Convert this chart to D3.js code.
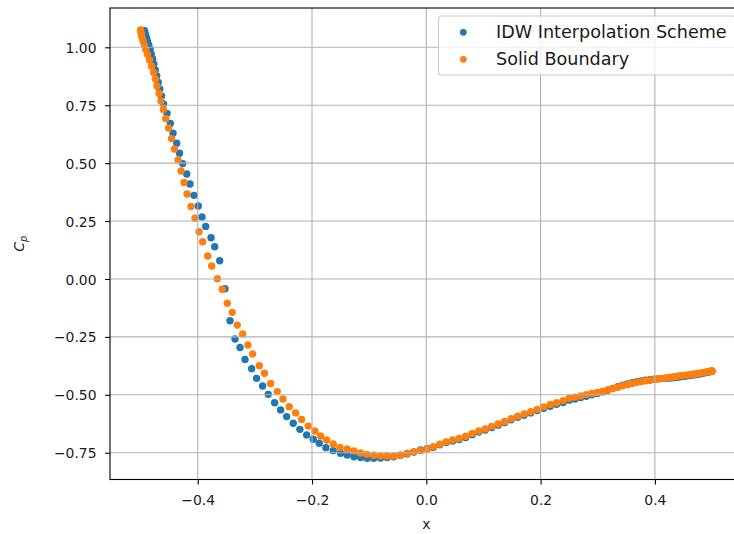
<!DOCTYPE html>
<html>
<head>
<meta charset="utf-8">
<script src="https://cdn.jsdelivr.net/npm/d3@7"></script>
<style>
  html, body { margin: 0; padding: 0; background: #ffffff; }
  svg { display: block; font-family: "DejaVu Sans", sans-serif; }
</style>
</head>
<body>
<svg id="chart" width="734" height="534"></svg>
<script>
// Pressure coefficient along the surface, IDW interpolation vs. solid boundary
const idwX = [
  -0.4934, -0.4925, -0.4913, -0.4895, -0.4878, -0.4857, -0.4834, -0.4813, -0.4790, -0.4768,
  -0.4743, -0.4717, -0.4691, -0.4664, -0.4633, -0.4598, -0.4537, -0.4479, -0.4432, -0.4367,
  -0.4318, -0.4262, -0.4192, -0.4135, -0.4065, -0.3990, -0.3925, -0.3860, -0.3767, -0.3703,
  -0.3615, -0.3523, -0.3435, -0.3348, -0.3260, -0.3173, -0.3056, -0.2969, -0.2864, -0.2766,
  -0.2654, -0.2549, -0.2444, -0.2329, -0.2212, -0.2094, -0.1979, -0.1874, -0.1757, -0.1629,
  -0.1500, -0.1385, -0.1267, -0.1150, -0.1035, -0.0918, -0.0801, -0.0685, -0.0568, -0.0451,
  -0.0336, -0.0219, -0.0101, 0.0014,
  0.0122, 0.0236, 0.0350, 0.0463, 0.0577, 0.0691, 0.0804, 0.0918, 0.1031, 0.1145,
  0.1259, 0.1372, 0.1486, 0.1600, 0.1713, 0.1827, 0.1941, 0.2054, 0.2168, 0.2281,
  0.2395, 0.2500, 0.2601, 0.2701, 0.2801, 0.2897, 0.2991, 0.3086, 0.3175, 0.3262,
  0.3350, 0.3435, 0.3519, 0.3603, 0.3684, 0.3760, 0.3837, 0.3911, 0.3983, 0.4052,
  0.4121, 0.4185, 0.4247, 0.4306, 0.4365, 0.4421, 0.4474, 0.4524, 0.4573, 0.4621,
  0.4664, 0.4705, 0.4743, 0.4780, 0.4844, 0.4895, 0.4937, 0.4969, 0.4990, 0.5000
];
const idwCp = [
  1.073, 1.064, 1.053, 1.040, 1.025, 1.010, 0.993, 0.971, 0.950, 0.928,
  0.902, 0.876, 0.848, 0.820, 0.790, 0.755, 0.715, 0.671, 0.629, 0.586,
  0.543, 0.498, 0.453, 0.410, 0.361, 0.315, 0.268, 0.227, 0.178, 0.139,
  0.079, -0.042, -0.180, -0.259, -0.296, -0.347, -0.387, -0.429, -0.462, -0.498,
  -0.534, -0.565, -0.594, -0.623, -0.649, -0.673, -0.692, -0.709, -0.728, -0.741,
  -0.752, -0.760, -0.767, -0.771, -0.774, -0.774, -0.773, -0.770, -0.767, -0.761,
  -0.755, -0.747, -0.738, -0.732,
  -0.727, -0.716, -0.706, -0.699, -0.693, -0.684, -0.672, -0.661, -0.652, -0.641,
  -0.631, -0.620, -0.608, -0.597, -0.588, -0.578, -0.568, -0.558, -0.549, -0.541,
  -0.533, -0.523, -0.518, -0.512, -0.506, -0.500, -0.494, -0.487, -0.480, -0.472,
  -0.465, -0.458, -0.453, -0.448, -0.443, -0.440, -0.437, -0.435, -0.433, -0.431,
  -0.430, -0.429, -0.428, -0.426, -0.425, -0.423, -0.421, -0.420, -0.418, -0.416,
  -0.414, -0.413, -0.411, -0.410, -0.407, -0.404, -0.402, -0.400, -0.399, -0.398
];
const solidX = [
  -0.5000, -0.4995, -0.4986, -0.4974, -0.4956, -0.4935, -0.4909, -0.4878, -0.4843, -0.4808,
  -0.4773, -0.4741, -0.4712, -0.4677, -0.4642, -0.4601, -0.4560, -0.4510, -0.4458, -0.4406,
  -0.4344, -0.4292, -0.4240, -0.4187, -0.4117, -0.4047, -0.3977, -0.3913, -0.3825, -0.3755,
  -0.3657, -0.3570, -0.3483, -0.3395, -0.3308, -0.3213, -0.3121, -0.3038, -0.2923, -0.2832,
  -0.2724, -0.2608, -0.2509, -0.2399, -0.2287, -0.2182, -0.2066, -0.1949, -0.1850, -0.1745,
  -0.1629, -0.1512, -0.1385, -0.1267, -0.1150, -0.1040, -0.0918, -0.0801, -0.0685, -0.0568,
  -0.0451, -0.0336, -0.0219, -0.0101, 0.0014,
  0.0122, 0.0236, 0.0350, 0.0463, 0.0577, 0.0691, 0.0804, 0.0918, 0.1031, 0.1145,
  0.1259, 0.1372, 0.1486, 0.1600, 0.1713, 0.1827, 0.1941, 0.2054, 0.2168, 0.2281,
  0.2395, 0.2500, 0.2601, 0.2701, 0.2801, 0.2897, 0.2991, 0.3086, 0.3175, 0.3262,
  0.3350, 0.3435, 0.3519, 0.3603, 0.3684, 0.3760, 0.3837, 0.3911, 0.3983, 0.4052,
  0.4121, 0.4185, 0.4247, 0.4306, 0.4365, 0.4421, 0.4474, 0.4524, 0.4573, 0.4621,
  0.4664, 0.4705, 0.4743, 0.4780, 0.4844, 0.4895, 0.4937, 0.4969, 0.4990, 0.5000
];
const solidCp = [
  1.075, 1.066, 1.055, 1.042, 1.027, 1.010, 0.991, 0.969, 0.945, 0.919,
  0.891, 0.863, 0.833, 0.801, 0.768, 0.732, 0.693, 0.652, 0.606, 0.561,
  0.514, 0.466, 0.417, 0.367, 0.313, 0.262, 0.204, 0.161, 0.099, 0.056,
  0.001, -0.044, -0.105, -0.144, -0.199, -0.237, -0.285, -0.324, -0.374, -0.407,
  -0.451, -0.486, -0.518, -0.551, -0.578, -0.606, -0.635, -0.656, -0.678, -0.695,
  -0.712, -0.727, -0.734, -0.742, -0.751, -0.757, -0.761, -0.764, -0.764, -0.764,
  -0.761, -0.752, -0.747, -0.741, -0.734,
  -0.724, -0.713, -0.703, -0.695, -0.688, -0.679, -0.667, -0.656, -0.647, -0.636,
  -0.626, -0.615, -0.603, -0.592, -0.583, -0.573, -0.563, -0.552, -0.542, -0.534,
  -0.525, -0.515, -0.510, -0.505, -0.499, -0.494, -0.490, -0.485, -0.479, -0.473,
  -0.467, -0.461, -0.456, -0.451, -0.446, -0.443, -0.439, -0.437, -0.434, -0.432,
  -0.429, -0.427, -0.425, -0.423, -0.421, -0.419, -0.417, -0.416, -0.414, -0.412,
  -0.411, -0.410, -0.408, -0.407, -0.404, -0.401, -0.400, -0.398, -0.398, -0.397
];
const seriesNames = ["IDW Interpolation Scheme", "Solid Boundary"];
const seriesColors = ["#1f77b4", "#ff7f0e"];
const xTicks = [-0.4, -0.2, 0.0, 0.2, 0.4];
const yTicks = [-0.75, -0.50, -0.25, 0.00, 0.25, 0.50, 0.75, 1.00];
const xLimits = [-0.5535, 0.5535];
const yLimits = [-0.8655, 1.1697];

const svg = d3.select("#chart");
const plot = { left: 110, top: 8, right: 742.6, bottom: 479.5 };
const fontSize = 13.9;
const legendFontSize = 17.6;
const textColor = "#1a1a1a";

const x = d3.scaleLinear().domain(xLimits).range([plot.left, plot.right]);
const y = d3.scaleLinear().domain(yLimits).range([plot.bottom, plot.top]);

svg.append("rect").attr("width", 734).attr("height", 534).attr("fill", "#ffffff");

// scatter markers (grid lines are drawn over them)
const series = [
  { name: seriesNames[0], color: seriesColors[0], xs: idwX, ys: idwCp },
  { name: seriesNames[1], color: seriesColors[1], xs: solidX, ys: solidCp }
];
const pts = svg.append("g");
series.forEach(s => {
  pts.append("g").selectAll("circle")
    .data(d3.range(s.xs.length))
    .join("circle")
    .attr("cx", i => x(s.xs[i]))
    .attr("cy", i => y(s.ys[i]))
    .attr("r", 3.7)
    .attr("fill", s.color);
});

// grid
const grid = svg.append("g").attr("stroke", "#b0b0b0").attr("stroke-width", 1.1);
grid.selectAll(".gx").data(xTicks).join("line")
  .attr("x1", d => x(d)).attr("x2", d => x(d))
  .attr("y1", plot.top).attr("y2", plot.bottom);
grid.selectAll(".gy").data(yTicks).join("line")
  .attr("x1", plot.left).attr("x2", plot.right)
  .attr("y1", d => y(d)).attr("y2", d => y(d));

// axes
const xAxis = d3.axisBottom(x).tickValues(xTicks).tickFormat(d3.format(".1f"))
  .tickSize(4.9).tickSizeOuter(0).tickPadding(10.3);
const yAxis = d3.axisLeft(y).tickValues(yTicks).tickFormat(d3.format(".2f"))
  .tickSize(4.9).tickSizeOuter(0).tickPadding(8.6);

const gx = svg.append("g").attr("transform", `translate(0,${plot.bottom})`).call(xAxis);
const gy = svg.append("g").attr("transform", `translate(${plot.left},0)`).call(yAxis);
[gx, gy].forEach(g => {
  g.select(".domain").remove();
  g.selectAll(".tick line").attr("stroke", "#000").attr("stroke-width", 1.1);
  g.selectAll(".tick text").attr("fill", textColor)
    .attr("font-size", fontSize).attr("font-family", "DejaVu Sans");
});
gy.selectAll(".tick text").attr("dy", "0.36em");

// frame
const frame = svg.append("g").attr("stroke", "#000").attr("stroke-width", 1.1).attr("fill", "none");
frame.append("rect")
  .attr("x", plot.left).attr("y", plot.top)
  .attr("width", plot.right - plot.left).attr("height", plot.bottom - plot.top);

// axis titles
svg.append("text")
  .attr("x", (plot.left + plot.right) / 2).attr("y", 529)
  .attr("text-anchor", "middle").attr("font-size", fontSize).attr("fill", textColor)
  .text("x");

const yl = svg.append("text")
  .attr("transform", `translate(23.5,${(plot.top + plot.bottom) / 2}) rotate(-90)`)
  .attr("text-anchor", "middle").attr("font-size", fontSize).attr("fill", textColor);
yl.append("tspan").attr("font-style", "italic").text("C");
yl.append("tspan").attr("font-style", "italic").attr("font-size", 9.7).attr("dy", 3).text("p");

// legend
const lg = svg.append("g");
lg.append("rect")
  .attr("x", 438.5).attr("y", 16).attr("width", 297).attr("height", 59).attr("rx", 3)
  .attr("fill", "#ffffff").attr("fill-opacity", 0.8)
  .attr("stroke", "#cccccc").attr("stroke-width", 1.1);
series.forEach((s, i) => {
  const cy = 32.3 + i * 27;
  lg.append("circle").attr("cx", 463.3).attr("cy", cy).attr("r", 3.4).attr("fill", s.color);
  lg.append("text").attr("x", 496).attr("y", cy + 5.2)
    .attr("font-size", legendFontSize).attr("fill", textColor).text(s.name);
});
</script>
</body>
</html>
